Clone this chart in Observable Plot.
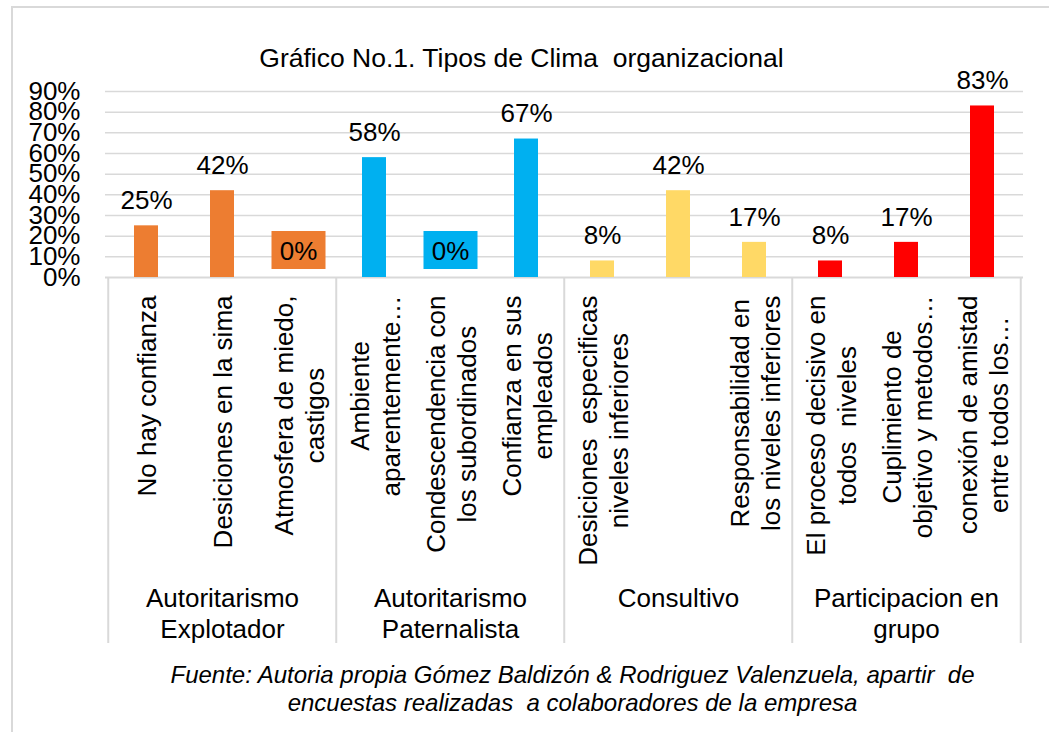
<!DOCTYPE html>
<html>
<head>
<meta charset="utf-8">
<script src="https://cdn.jsdelivr.net/npm/d3@7"></script>
<script src="https://cdn.jsdelivr.net/npm/@observablehq/plot@0.6"></script>
<style>
body { margin: 0; background: #fff; font-family: "Liberation Sans", Arial, sans-serif; }
#wrap { position: relative; width: 1049px; height: 732px; overflow: hidden; background: #fff; }
#frame { position: absolute; left: 11px; top: 6px; width: 1100px; height: 800px; border-left: 2px solid #d9d9d9; border-top: 2px solid #d9d9d9; box-sizing: border-box; }
#title { position: absolute; left: 0; width: 1043px; top: 42px; text-align: center; font-size: 26.5px; line-height: 32px; white-space: pre; color: #000; }
#chart { position: absolute; left: 0; top: 70px; }
#chart svg text { white-space: pre; }
#caption { position: absolute; left: 0; width: 1145px; top: 661px; text-align: center; font-size: 24px; line-height: 28px; font-style: italic; white-space: pre; color: #000; }
</style>
</head>
<body>
<div id="wrap">
  <div id="frame"></div>
  <div id="title">Gráfico No.1. Tipos de Clima  organizacional</div>
  <div id="chart"></div>
  <div id="caption">Fuente: Autoria propia Gómez Baldizón &amp; Rodriguez Valenzuela, apartir  de<br>encuestas realizadas  a colaboradores de la empresa</div>
</div>
<script>
// ---- data ----
const groups = ["Autoritarismo\nExplotador", "Autoritarismo\nPaternalista", "Consultivo", "Participacion en\ngrupo"];
const categories = [
  "No hay confianza",
  "Desiciones en la sima",
  "Atmosfera de miedo,\ncastigos",
  "Ambiente\naparentemente…",
  "Condescendencia con\nlos subordinados",
  "Confianza en sus\nempleados",
  "Desiciones  especificas\nniveles inferiores",
  "",
  "Responsabilidad en\nlos niveles inferiores",
  "El proceso decisivo en\ntodos  niveles",
  "Cuplimiento de\nobjetivo y metodos…",
  "conexión de amistad\nentre todos los…"
];
const categoryGroup = [0, 0, 0, 1, 1, 1, 2, 2, 2, 3, 3, 3];
const values = [0.25, 0.42, 0, 0.58, 0, 0.67, 0.08, 0.42, 0.17, 0.08, 0.17, 0.83];
const groupColors = ["#ED7D31", "#00B0F0", "#FFD966", "#FF0000"];
const yTicks = [0, 0.1, 0.2, 0.3, 0.4, 0.5, 0.6, 0.7, 0.8, 0.9];

// ---- build ----
const rows = categories.map((label, i) => ({
  id: i, label, group: categoryGroup[i], value: values[i], color: groupColors[categoryGroup[i]]
}));
const pct = d => Math.round(d * 100) + "%";

const W = 1049, H = 580, mL = 105, mR = 26, mT = 21, mB = 373;
const step = (W - mL - mR) / categories.length;

const ctx = document.createElement("canvas").getContext("2d");
ctx.font = '26px "Liberation Sans", Arial, sans-serif';
const maxLineWidth = s => Math.max(...s.split("\n").map(l => ctx.measureText(l).width));

const groupRows = groups.map((g, k) => {
  const members = rows.filter(r => r.group === k);
  return {label: g, id: members[Math.floor(members.length / 2)].id};
});
const firstOfGroup = groups.map((g, k) => rows.find(r => r.group === k));
const lastRow = rows[rows.length - 1];
const zeroRows = rows.filter(r => r.value === 0);

const labelMarks = rows.filter(r => r.label !== "").map(r =>
  Plot.text([r], {
    x: "id", frameAnchor: "bottom", text: "label", rotate: -90,
    textAnchor: "middle", lineAnchor: "middle", lineHeight: 1.2,
    fontSize: 26, dy: 18 + maxLineWidth(r.label) / 2, fill: "#000"
  })
);

const plot = Plot.plot({
  width: W, height: H,
  marginLeft: mL, marginRight: mR, marginTop: mT, marginBottom: mB,
  style: {fontFamily: '"Liberation Sans", Arial, sans-serif', fontSize: "26px", color: "#000", background: "transparent", overflow: "visible"},
  x: {type: "band", domain: rows.map(r => r.id), paddingInner: 0.69, paddingOuter: 0.345, axis: null},
  y: {domain: [0, 0.9], axis: null},
  color: {type: "identity"},
  marks: [
    Plot.gridY(yTicks.slice(1), {stroke: "#d9d9d9", strokeOpacity: 1, strokeWidth: 1.5}),
    Plot.axisY(yTicks, {tickFormat: pct, tickSize: 0, tickPadding: 25, fontSize: 26, fill: "#000", label: null}),
    Plot.ruleY([0], {stroke: "#d9d9d9", strokeWidth: 2}),
    Plot.ruleX(firstOfGroup, {x: "id", dx: -step / 2, stroke: "#d9d9d9", strokeWidth: 2, insetTop: H - mB - mT, insetBottom: -366}),
    Plot.ruleX([lastRow], {x: "id", dx: step / 2, stroke: "#d9d9d9", strokeWidth: 2, insetTop: H - mB - mT, insetBottom: -366}),
    Plot.barY(rows, {x: "id", y: "value", fill: "color"}),
    // filled box behind the 0% data labels
    Plot.ruleX(zeroRows, {x: "id", stroke: "color", strokeWidth: 54, insetTop: 140, insetBottom: 8}),
    Plot.text(rows.filter(r => r.value > 0), {x: "id", y: "value", text: d => pct(d.value), dy: -25, fontSize: 26, lineAnchor: "middle", fill: "#000"}),
    Plot.text(zeroRows, {x: "id", y: "value", text: d => pct(d.value), dy: -26, fontSize: 26, lineAnchor: "middle", fill: "#000"}),
    ...labelMarks,
    Plot.text(groupRows, {x: "id", frameAnchor: "bottom", text: "label", lineAnchor: "top", lineHeight: 1.2, fontSize: 26, dy: 307, fill: "#000"})
  ]
});
document.getElementById("chart").appendChild(plot);
</script>
</body>
</html>
